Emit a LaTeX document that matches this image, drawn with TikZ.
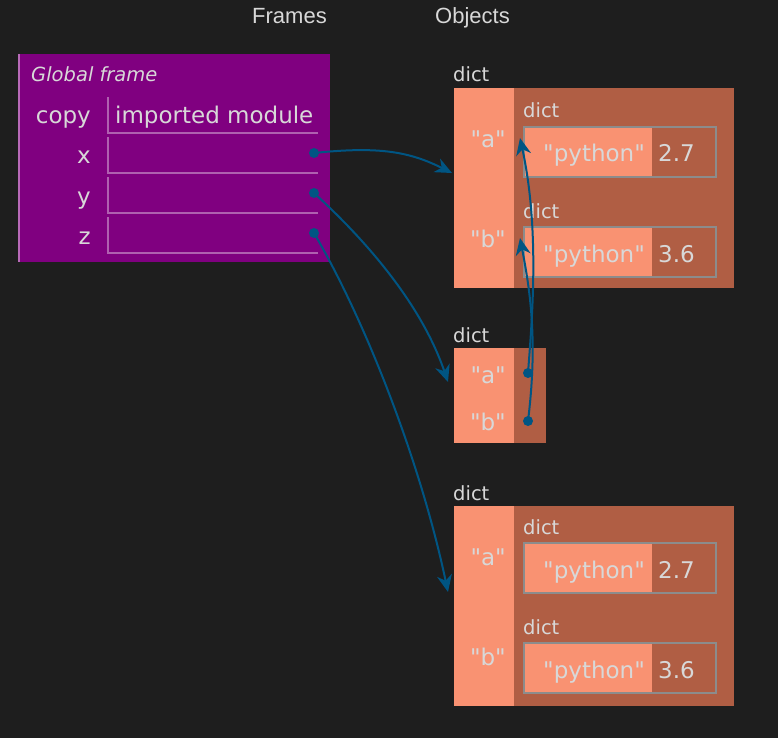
\documentclass[tikz,border=0pt]{standalone}
\usepackage{fontspec}
\setmainfont{DejaVu Sans}
\newfontfamily\dvfont{DejaVu Sans}
\newfontfamily\hdrfont{Liberation Sans}
\usetikzlibrary{arrows.meta}
\definecolor{bg}{HTML}{1E1E1E}
\definecolor{fg}{HTML}{D8D8D8}
\definecolor{frm}{HTML}{800080}
\definecolor{frmedge}{HTML}{B86AB8}
\definecolor{frmline}{HTML}{B060B0}
\definecolor{keyc}{HTML}{F99272}
\definecolor{valc}{HTML}{B05E44}
\definecolor{inbord}{HTML}{8C8C8C}
\definecolor{ptr}{HTML}{005583}
\tikzset{
  txt/.style={text=fg, inner sep=0pt, font=\dvfont\fontsize{23}{27}\selectfont},
  smalltxt/.style={text=fg, inner sep=0pt, font=\dvfont\fontsize{19.5}{23}\selectfont},
  hdr/.style={text=fg, inner sep=0pt, font=\hdrfont\fontsize{22}{26}\selectfont},
  rowline/.style={draw=frmline, line width=1.5pt},
  inbox/.style={draw=inbord, line width=2pt},
  dot/.style={circle, fill=ptr, inner sep=0pt, minimum size=10pt},
  pointer/.style={draw=ptr, line width=2pt, -{Stealth[length=17pt, width=15pt, inset=5.5pt]}},
}
\newcommand{\innerdict}[3]{% #1 name, #2 top y, #3 value
  \fill[keyc] (524,#2) rectangle (652,#2+50);
  \fill[valc] (652,#2) rectangle (716,#2+50);
  \draw[inbox] (524,#2) rectangle (716,#2+50);
  \node[txt, anchor=base west] (#1key) at (543,#2+35) {"python"};
  \node[txt, anchor=base west] (#1val) at (658,#2+35) {#3};
  \node[smalltxt, anchor=base west] (#1lab) at (523,#2-9) {dict};
  \coordinate (#1in) at (520,#2+11);
}
\begin{document}
\begin{tikzpicture}[x=1pt, y=-1pt]
\useasboundingbox[fill=bg] (0,0) rectangle (778,738);
% headers
\node[hdr, anchor=base west] (hframes) at (252,24) {Frames};
\node[hdr, anchor=base west] (hobjects) at (435,24) {Objects};
% global frame
\fill[frm] (18,54) rectangle (330,262);
\draw[frmedge, line width=2pt] (19,54) -- (19,262);
\node[smalltxt, anchor=base west, font=\dvfont\fontsize{19.5}{23}\selectfont\itshape] (gf) at (31,82) {Global frame};
\foreach \t in {97,137,177,217} {
  \draw[rowline] (108,\t) -- (108,\t+36) -- (318,\t+36);
}
\node[txt, anchor=base east] (vcopy) at (91,124) {copy};
\node[txt, anchor=base west] (vmod) at (115,124) {imported module};
\node[txt, anchor=base east] (vx) at (91,164) {x};
\node[txt, anchor=base east] (vy) at (91,204) {y};
\node[txt, anchor=base east] (vz) at (91,244) {z};
\node[dot] (dx) at (314,153) {};
\node[dot] (dy) at (314,193) {};
\node[dot] (dz) at (314,233) {};
% object 1
\node[smalltxt, anchor=base west] (o1lab) at (453,82) {dict};
\fill[keyc] (454,88) rectangle (514,288);
\fill[valc] (514,88) rectangle (734,288);
\coordinate (o1) at (452,173);
\node[txt, anchor=base east] (o1a) at (506,148) {"a"};
\node[txt, anchor=base east] (o1b) at (506,247) {"b"};
\innerdict{p1}{127}{2.7}
\innerdict{p2}{227}{3.6}
% object 2
\node[smalltxt, anchor=base west] (o2lab) at (453,342) {dict};
\fill[keyc] (454,348) rectangle (514,443);
\fill[valc] (514,348) rectangle (546,443);
\coordinate (o2) at (448,382);
\node[txt, anchor=base east] (o2a) at (506,383) {"a"};
\node[txt, anchor=base east] (o2b) at (506,430) {"b"};
\node[dot] (d2a) at (528,373) {};
\node[dot] (d2b) at (528,421) {};
% object 3
\node[smalltxt, anchor=base west] (o3lab) at (453,500) {dict};
\fill[keyc] (454,506) rectangle (514,706);
\fill[valc] (514,506) rectangle (734,706);
\coordinate (o3) at (448,592);
\node[txt, anchor=base east] (o3a) at (506,565) {"a"};
\node[txt, anchor=base east] (o3b) at (506,665) {"b"};
\innerdict{q1}{543}{2.7}
\innerdict{q2}{643}{3.6}
% pointers
\draw[pointer] (dx.center) .. controls (380,146) and (410,152) .. (o1);
\draw[pointer] (dy.center) .. controls (360,235) and (420,300) .. (o2);
\draw[pointer] (dz.center) .. controls (365,320) and (420,460) .. (o3);
\draw[pointer] (d2a.center) .. controls (532,320) and (540,230) .. (p1in);
\draw[pointer] (d2b.center) .. controls (538,340) and (530,290) .. (p2in);
\end{tikzpicture}
\end{document}
